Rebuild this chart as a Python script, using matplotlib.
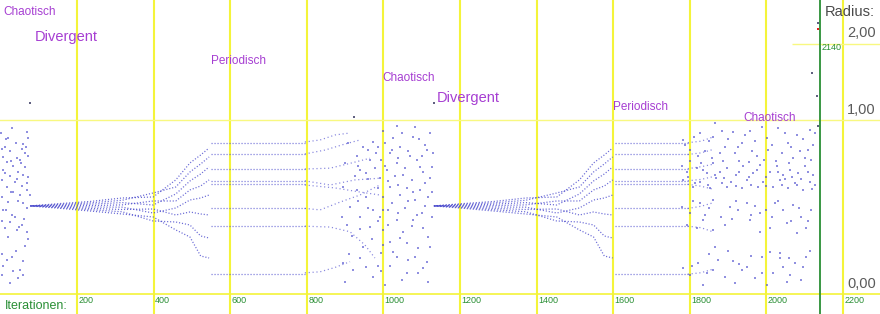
import numpy as np
import matplotlib
matplotlib.use("Agg")
import matplotlib.pyplot as plt

# ---------------- axes / ticks ----------------
x_ticks = [200, 400, 600, 800, 1000, 1200, 1400, 1600, 1800, 2000, 2200]
y_ticks = [0.0, 1.0, 2.0]
y_tick_labels = ["0,00", "1,00", "2,00"]
marker_iter = 2140
marker_label = "2140"

# ---------------- periodic sweeps (fan + plateau) ----------------
cycle_start = [78, 1132]          # iteration where the orbit collapses to one value
cycle_plateau_end = [795, 1795]   # iteration where the period-8 plateau breaks up
fan_rel_iter = [0, 80, 156, 240, 321, 380, 417, 445, 467]
fan_r = [
    [0.272, 0.272, 0.272, 0.272, 0.272, 0.272, 0.272, 0.272],
    [0.2865, 0.2823, 0.2781, 0.2740, 0.2699, 0.2657, 0.2617, 0.2576],
    [0.2988, 0.2902, 0.2823, 0.2740, 0.2657, 0.2576, 0.2502, 0.2428],
    [0.3207, 0.3062, 0.2920, 0.2781, 0.2646, 0.2513, 0.2384, 0.2264],
    [0.3272, 0.3535, 0.2775, 0.3019, 0.2318, 0.2542, 0.1900, 0.2104],
    [0.4460, 0.3947, 0.3468, 0.3019, 0.2599, 0.2210, 0.1850, 0.1480],
    [0.5812, 0.5072, 0.4381, 0.3740, 0.3080, 0.2373, 0.1706, 0.1184],
    [0.6510, 0.5727, 0.4914, 0.4018, 0.3207, 0.2264, 0.1224, 0.0545],
    [0.7151, 0.6332, 0.5478, 0.4460, 0.3400, 0.2210, 0.1144, 0.0492],
]
plateau_rel_start = 472
plateau_r = [0.7655, 0.6553, 0.5338, 0.4396, 0.4140, 0.2571, 0.1650, 0.0157]

# ---------------- break-up bands after the plateaus ----------------
band_iters = [
    [795, 835, 874, 913],
    [795, 848, 900, 939],
    [795, 861, 913, 965],
    [795, 861, 926, 991],
    [795, 874, 939, 991],
    [795, 835, 887, 939, 991],
    [795, 861, 913, 952, 978],
    [795, 835, 874, 913],
    [1795, 1830, 1860],
    [1795, 1830, 1860],
    [1795, 1830, 1860],
    [1795, 1830, 1860],
    [1795, 1830, 1860],
    [1795, 1830, 1860],
    [1795, 1830, 1860],
    [1795, 1830, 1860],
]
band_r = [
    [0.772, 0.792, 0.842, 0.862],
    [0.660, 0.696, 0.753, 0.792],
    [0.531, 0.538, 0.578, 0.622],
    [0.439, 0.409, 0.446, 0.459],
    [0.409, 0.388, 0.360, 0.340],
    [0.2575, 0.249, 0.295, 0.340, 0.409],
    [0.165, 0.161, 0.140, 0.0887, 0.049],
    [0.0178, 0.0195, 0.0275, 0.040],
    [0.7655, 0.78, 0.82],
    [0.6553, 0.67, 0.70],
    [0.5338, 0.55, 0.57],
    [0.4396, 0.45, 0.47],
    [0.4140, 0.40, 0.38],
    [0.2571, 0.27, 0.29],
    [0.1650, 0.158, 0.14],
    [0.0157, 0.018, 0.024],
]

# ---------------- chaotic iterates ----------------
chaos1_iter = [30, 69, 21, 73, 60, 12, 4, 56, 25, 64, 8, 43, 73, 17, 51, 34, 64, 8, 47, 25,
               60, 73, 4, 38, 56, 17, 69, 34, 77, 4, 51, 21, 60, 8, 38, 4, 25, 56, 12, 43,
               69, 64, 30, 17, 60, 8, 51, 34, 47, 4,
               2, 15, 40, 66, 28, 55, 12, 44, 70, 27, 45, 70, 15, 30, 62, 48, 20, 72, 40, 3,
               58, 25]
chaos1_r = [0.917, 0.872, 0.814, 0.814, 0.753, 0.728, 0.707, 0.707, 0.683, 0.668, 0.630, 0.625,
            0.638, 0.593, 0.607, 0.553, 0.545, 0.523, 0.506, 0.472, 0.484, 0.465, 0.446, 0.433,
            0.404, 0.396, 0.374, 0.363, 0.340, 0.329, 0.340, 0.294, 0.288, 0.249, 0.212, 0.190,
            0.187, 0.171, 0.156, 0.148, 0.141, 0.084, 0.053, 0.044, 0.042, 0.030, 0.023, 0.020,
            0.010, 0.0145,
            0.86, 0.80, 0.76, 0.72, 0.60, 0.58, 0.50, 0.45, 0.42, 0.36, 0.30, 0.26, 0.25, 0.22,
            0.20, 0.16, 0.12, 0.11, 0.07, 0.06, 0.015, 0.005]

chaos2_iter = [1036, 1084, 1122, 1026, 1078, 1004, 1043, 1109, 1017, 1065, 1100, 1130, 995, 1035,
               1087, 1009, 1056, 1104, 991, 1030, 1074, 1122, 1017, 1061, 1096, 1000, 1043, 1083,
               1117, 1013, 1056, 1100, 991, 1035, 1078, 1000, 1052, 1104, 1017, 1061, 1122, 995,
               1035, 1083, 1017, 1061, 1104, 1004, 1091,
               895, 930, 956, 974, 913, 939, 891, 965, 917, 948, 895, 921, 956, 974, 900, 908,
               948, 974, 930, 965, 982, 956, 926, 978,
               1000, 1048, 1092, 1113, 1022, 1070, 1039, 1005, 1096, 1126, 1052, 1013, 1109, 1039,
               1078, 1126, 1022, 1065, 1109, 1000, 1039, 1087, 1126, 1013, 1074, 1117, 1043, 1000,
               1091, 1026, 1065, 1113, 1048, 1117, 995, 940, 960, 985, 935, 960, 985, 905, 940,
               970, 910, 940, 985, 900, 935, 985, 960]
chaos2_r = [0.939, 0.923, 0.865, 0.810, 0.826, 0.762, 0.728, 0.743, 0.668, 0.683, 0.638, 0.668,
            0.607, 0.578, 0.607, 0.523, 0.536, 0.509, 0.459, 0.472, 0.446, 0.459, 0.396, 0.386,
            0.374, 0.329, 0.340, 0.308, 0.329, 0.249, 0.258, 0.231, 0.212, 0.195, 0.195, 0.148,
            0.141, 0.156, 0.100, 0.095, 0.083, 0.062, 0.053, 0.053, 0.030, 0.017, 0.026, 0.0035,
            0.017,
            0.396, 0.374, 0.329, 0.249, 0.268, 0.212, 0.212, 0.163, 0.122, 0.083, 0.036, 0.023,
            0.029, 0.012, 0.006, 0.762, 0.728, 0.775, 0.638, 0.607, 0.668, 0.497, 0.472, 0.536,
            0.88, 0.86, 0.80, 0.70, 0.70, 0.64, 0.62, 0.56, 0.55, 0.55, 0.48, 0.44, 0.42, 0.41,
            0.36, 0.36, 0.29, 0.30, 0.27, 0.25, 0.23, 0.22, 0.21, 0.17, 0.165, 0.12, 0.115, 0.09,
            0.08, 0.065, 0.045, 0.04, 0.008, 0.006, 0.02, 0.52, 0.45, 0.39, 0.30, 0.26, 0.19,
            0.17, 0.15, 0.11, 0.06, 0.05, 0.03, 0.58, 0.56, 0.72, 0.70]

chaos3_iter = [1866, 1914, 1957, 2031, 2114, 1827, 2079, 1862, 2001, 1783, 1936, 2057, 1892, 2122,
               1801, 1840, 1879, 1918, 1962, 2005, 2040, 2088, 1822, 1975, 2070, 2118,
               1779, 1818, 1862, 1897, 1940, 1983, 2027, 2062, 2101, 1792, 1844, 1879, 1922, 1966,
               2009, 2044, 2083, 2122, 1783, 1827, 1870, 1909, 1949, 1992, 2036, 2075, 2114, 1809,
               1853, 1897, 1936, 1979, 2018, 2057, 2096,
               1779, 1827, 1862, 1905, 1949, 2022, 2070, 2118, 1801, 1883, 1927, 1983, 2044, 2092,
               1792, 1835, 1892, 1957, 2009, 2053, 2105, 1818, 1862, 1983, 2079, 1866, 2036,
               1783, 1822, 1874, 1914, 1949, 1988, 2036, 2075, 2105, 1801, 1844, 1892, 1936, 1970,
               2018, 2062, 2096, 1835, 1918, 2001, 2053,
               1788, 1810, 1850, 1885, 1900, 1925, 1945, 1970, 1990, 2015, 2050, 2065, 2095, 2110,
               2128, 1800, 1830, 1858, 1888, 1930, 1955, 1995, 2025, 2060, 2100, 1795, 1835, 1865,
               1890, 1930, 1955, 1975, 2000, 2030, 2050, 2068, 2090, 2110, 2128, 1815, 1848, 1885,
               1920, 1960, 2000, 2040, 2080, 2120, 1808, 1850, 1920, 1970, 2000, 2030, 2085, 1840,
               1910, 1960, 2015, 2065, 2110, 1850, 1900, 1960, 2010, 2060, 2115, 1805, 1860, 1930,
               1990, 2045, 2090]
chaos3_r = [0.964, 0.875, 0.886, 0.911, 0.893, 0.859, 0.842, 0.819, 0.810, 0.792, 0.762, 0.762,
            0.728, 0.743, 0.696, 0.683, 0.668, 0.668, 0.683, 0.696, 0.668, 0.683, 0.638, 0.638,
            0.625, 0.607,
            0.553, 0.536, 0.578, 0.536, 0.553, 0.564, 0.553, 0.523, 0.553, 0.509, 0.497, 0.509,
            0.484, 0.497, 0.509, 0.484, 0.497, 0.484, 0.446, 0.433, 0.459, 0.433, 0.446, 0.433,
            0.446, 0.421, 0.433, 0.396, 0.386, 0.392, 0.386, 0.392, 0.396, 0.386, 0.374,
            0.268, 0.288, 0.308, 0.268, 0.288, 0.288, 0.2775, 0.249, 0.231, 0.212, 0.249, 0.231,
            0.249, 0.212, 0.171, 0.195, 0.171, 0.195, 0.156, 0.180, 0.156, 0.156, 0.148, 0.141,
            0.135, 0.083, 0.062,
            0.026, 0.036, 0.044, 0.041, 0.029, 0.053, 0.048, 0.036, 0.053, 0.0145, 0.017, 0.012,
            0.023, 0.010, 0.017, 0.0145, 0.029, 0.0035, 0.005, 0.0035, 0.0063,
            0.74, 0.82, 0.78, 0.88, 0.80, 0.72, 0.84, 0.78, 0.92, 0.74, 0.86, 0.72, 0.80, 0.70,
            0.86, 0.60, 0.58, 0.62, 0.60, 0.60, 0.59, 0.61, 0.60, 0.58, 0.62, 0.47, 0.52, 0.48,
            0.46, 0.51, 0.47, 0.52, 0.47, 0.51, 0.45, 0.47, 0.45, 0.51, 0.41, 0.42, 0.41, 0.42,
            0.40, 0.41, 0.40, 0.41, 0.41, 0.38, 0.30, 0.26, 0.30, 0.27, 0.25, 0.30, 0.26, 0.22,
            0.20, 0.22, 0.21, 0.19, 0.19, 0.06, 0.07, 0.055, 0.065, 0.05, 0.07, 0.03, 0.022, 0.035,
            0.018, 0.028, 0.008]

# escaping (divergent) iterates
escape_iter = [77, 924, 1132, 2119, 2132, 2135, 2135]
escape_r = [1.195, 1.033, 1.195, 1.580, 1.280, 0.935, 2.333]
last_iter = [2135]
last_r = [2.235]

# ---------------- state labels ----------------
state_text = ["Chaotisch", "Divergent", "Periodisch", "Chaotisch", "Divergent", "Periodisch", "Chaotisch"]
state_iter = [7, 90, 550, 997, 1140, 1600, 1939]
state_r = [2.518, 2.108, 1.748, 1.512, 1.255, 1.148, 1.022]
state_size = [8.5, 10.5, 8.5, 8.5, 10.5, 8.5, 8.5]

# ---------------- drawing ----------------
P = 0.523
def fwd(r):
    r = np.asarray(r, dtype=float)
    return np.sign(r) * np.abs(r) ** P
def inv(v):
    v = np.asarray(v, dtype=float)
    return np.sign(v) * np.abs(v) ** (1.0 / P)

plt.rcParams['font.family'] = ['Liberation Sans', 'DejaVu Sans']
fig = plt.figure(figsize=(8.8, 3.14), dpi=100)
ax = fig.add_axes([0, 0, 1, 1])
ax.set_yscale('function', functions=(fwd, inv))
ax.set_xlim(-1, 2297)
ax.set_ylim(-0.0160, 2.726)
ax.axis('off')

yellow = '#f4f43a'
green = '#2a8f35'
purple = '#a63ed2'
dot = '#4646cc'

for t in x_ticks:
    ax.axvline(t, color=yellow, lw=1.5, zorder=1)
ax.axhline(0.0, color=yellow, lw=1.2, zorder=1)
ax.axhline(1.0, color='#f8f880', lw=1.0, zorder=1)
ax.hlines(2.0, 2067, 2297, color='#f8f880', lw=1.0, zorder=1)
ax.axvline(marker_iter, color=green, lw=1.3, zorder=1)

# fans and plateaus
fan = np.array(fan_r)
for c, start in enumerate(cycle_start):
    for k in range(fan.shape[1]):
        xs = [start + r for r in fan_rel_iter]
        ax.plot(xs, fan[:, k], color=dot, lw=0.9, alpha=0.8,
                linestyle=(k * 0.35, (0.9, 1.5)), dash_capstyle='butt', zorder=3)
        ax.plot([start + plateau_rel_start, cycle_plateau_end[c]], [plateau_r[k], plateau_r[k]],
                color=dot, lw=0.9, alpha=0.75, linestyle=(0, (0.9, 1.5)),
                dash_capstyle='butt', zorder=3)

for bi, br in zip(band_iters, band_r):
    ax.plot(bi, br, color=dot, lw=0.9, alpha=0.65, linestyle=(0, (0.9, 2.2)),
            dash_capstyle='butt', zorder=3)

for xi, yi in [(chaos1_iter, chaos1_r), (chaos2_iter, chaos2_r), (chaos3_iter, chaos3_r)]:
    ax.scatter(xi, yi, s=0.9, marker='s', color=dot, alpha=0.6, linewidths=0, zorder=3)
ax.scatter(escape_iter, escape_r, s=1.0, marker='s', color='#606080', linewidths=0, zorder=3)
ax.scatter(last_iter, last_r, s=3, marker='s', color='#e02020', linewidths=0, zorder=4)

# tick labels
for t in x_ticks:
    ax.annotate(str(t), xy=(t, 0.0), xytext=(1, -1.5), textcoords='offset points',
                ha='left', va='top', fontsize=6.5, color=green)
ax.annotate("Iterationen:", xy=(12, 0.0), xytext=(0, -8.8), textcoords='offset points',
            ha='left', va='center', fontsize=9, color=green)
for v, lab in zip(y_ticks, y_tick_labels):
    ax.annotate(lab, xy=(2211, v), xytext=(0, 2.5), textcoords='offset points',
                ha='left', va='bottom', fontsize=10.5, color='#5a5a5a')
ax.text(2153, 2.518, "Radius:", ha='left', va='center', fontsize=10.5, color='#4a4a4a')
ax.text(2145, 1.939, marker_label, ha='left', va='center', fontsize=6.5, color=green)

for s, xi, yi, fs in zip(state_text, state_iter, state_r, state_size):
    ax.text(xi, yi, s, ha='left', va='center', fontsize=fs, color=purple)

fig.savefig("out.png", dpi=100)
